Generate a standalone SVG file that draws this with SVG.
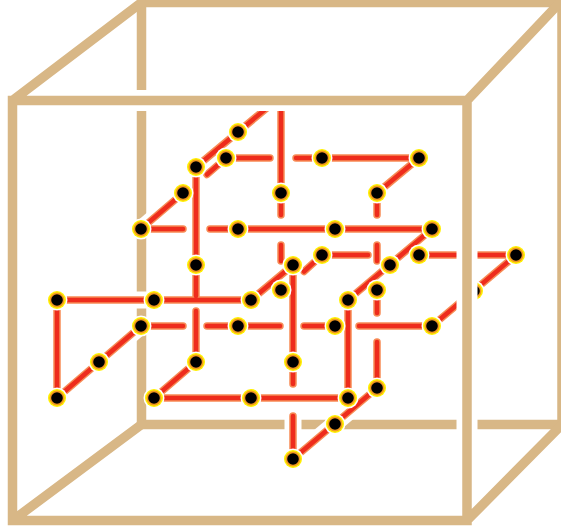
<svg xmlns="http://www.w3.org/2000/svg" width="561" height="529" viewBox="0 0 561 529">
<style>
.beam{fill:none;stroke:#D8B786;stroke-width:9.500;stroke-linecap:round}
.mask{fill:none;stroke:#fff;stroke-width:21}
.halo{stroke:#fff;stroke-width:17}
.edge{stroke:#F78B55;stroke-width:7.500;stroke-linecap:round}
.core{stroke:#EE2C1C;stroke-width:4.500;stroke-linecap:round}
</style>
<defs>
<g id="dot">
<circle r="10.500" fill="#fff"/>
<circle r="9" fill="#FFF000"/>
<circle r="7.500" fill="#F39A1E"/>
<circle r="5.800" fill="#000"/>
</g>
<g id="wires">
<line x1="196" y1="167" x2="238" y2="132"/>
<line x1="238" y1="132" x2="280" y2="97"/>
<line x1="141" y1="229" x2="183" y2="193"/>
<line x1="226" y1="158" x2="207" y2="174.500"/>
<line x1="226" y1="158" x2="270" y2="158"/>
<line x1="296" y1="158" x2="322" y2="158"/>
<line x1="322" y1="158" x2="419" y2="158"/>
<line x1="419" y1="158" x2="377" y2="193"/>
<line x1="281" y1="100" x2="281" y2="193"/>
<line x1="281" y1="193" x2="281" y2="215"/>
<line x1="281" y1="245" x2="281" y2="261"/>
<line x1="377" y1="193" x2="377" y2="215"/>
<line x1="377" y1="245" x2="377" y2="261"/>
<line x1="377" y1="290" x2="377" y2="313"/>
<line x1="377" y1="342" x2="377" y2="388"/>
<line x1="141" y1="229" x2="183" y2="229"/>
<line x1="210" y1="229" x2="238" y2="229"/>
<line x1="238" y1="229" x2="432" y2="229"/>
<line x1="196" y1="167" x2="196" y2="296"/>
<line x1="196" y1="311" x2="196" y2="362"/>
<line x1="57" y1="300" x2="251" y2="300"/>
<line x1="251" y1="300" x2="293" y2="265"/>
<line x1="322" y1="255" x2="304" y2="271.500"/>
<line x1="293" y1="265" x2="293" y2="384"/>
<line x1="293" y1="416" x2="293" y2="459"/>
<line x1="322" y1="255" x2="368" y2="255"/>
<line x1="419" y1="255" x2="516" y2="255"/>
<line x1="348" y1="300" x2="432" y2="229"/>
<line x1="432" y1="326" x2="516" y2="255"/>
<line x1="141" y1="326" x2="183" y2="326"/>
<line x1="207" y1="326" x2="280" y2="326"/>
<line x1="304" y1="326" x2="335" y2="326"/>
<line x1="359" y1="326" x2="432" y2="326"/>
<line x1="348" y1="300" x2="348" y2="398"/>
<line x1="154" y1="398" x2="348" y2="398"/>
<line x1="154" y1="398" x2="196" y2="362"/>
<line x1="293" y1="459" x2="377" y2="388"/>
<line x1="57" y1="300" x2="57" y2="398"/>
<line x1="57" y1="398" x2="141" y2="326"/>
</g>
</defs>
<g id="box-back">
<path class="beam" d="M141.500 2.500V424.500M141.500 2.500H566M562 2.500V424.500M141.500 424.500H562"/>
</g>
<g id="connectors">
<use href="#wires" class="halo"/>
<use href="#wires" class="edge"/>
<use href="#wires" class="core"/>
</g>
<g id="nodes">
<g id="n1"><use href="#dot" x="238" y="132"/></g>
<g id="n2"><use href="#dot" x="196" y="167"/></g>
<g id="n3"><use href="#dot" x="226" y="158"/></g>
<g id="n4"><use href="#dot" x="322" y="158"/></g>
<g id="n5"><use href="#dot" x="419" y="158"/></g>
<g id="n6"><use href="#dot" x="183" y="193"/></g>
<g id="n7"><use href="#dot" x="281" y="193"/></g>
<g id="n8"><use href="#dot" x="377" y="193"/></g>
<g id="n9"><use href="#dot" x="141" y="229"/></g>
<g id="n10"><use href="#dot" x="238" y="229"/></g>
<g id="n11"><use href="#dot" x="335" y="229"/></g>
<g id="n12"><use href="#dot" x="432" y="229"/></g>
<g id="n13"><use href="#dot" x="322" y="255"/></g>
<g id="n14"><use href="#dot" x="419" y="255"/></g>
<g id="n15"><use href="#dot" x="516" y="255"/></g>
<g id="n16"><use href="#dot" x="196" y="265"/></g>
<g id="n17"><use href="#dot" x="293" y="265"/></g>
<g id="n18"><use href="#dot" x="390" y="265"/></g>
<g id="n19"><use href="#dot" x="281" y="290"/></g>
<g id="n20"><use href="#dot" x="377" y="290"/></g>
<g id="n21"><use href="#dot" x="474" y="291"/></g>
<g id="n22"><use href="#dot" x="57" y="300"/></g>
<g id="n23"><use href="#dot" x="154" y="300"/></g>
<g id="n24"><use href="#dot" x="251" y="300"/></g>
<g id="n25"><use href="#dot" x="348" y="300"/></g>
<g id="n26"><use href="#dot" x="141" y="326"/></g>
<g id="n27"><use href="#dot" x="238" y="326"/></g>
<g id="n28"><use href="#dot" x="335" y="326"/></g>
<g id="n29"><use href="#dot" x="432" y="326"/></g>
<g id="n30"><use href="#dot" x="99" y="362"/></g>
<g id="n31"><use href="#dot" x="196" y="362"/></g>
<g id="n32"><use href="#dot" x="293" y="362"/></g>
<g id="n33"><use href="#dot" x="377" y="388"/></g>
<g id="n34"><use href="#dot" x="57" y="398"/></g>
<g id="n35"><use href="#dot" x="154" y="398"/></g>
<g id="n36"><use href="#dot" x="251" y="398"/></g>
<g id="n37"><use href="#dot" x="348" y="398"/></g>
<g id="n38"><use href="#dot" x="335" y="424"/></g>
<g id="n39"><use href="#dot" x="293" y="459"/></g>
</g>
<g id="box-front">
<rect class="mask" x="12.500" y="100.500" width="454.500" height="420"/>
<path class="beam" d="M12.500 100.500H467V520.500H12.500ZM12.500 100.500L141.500 2.500M467 100.500L560 2.500M467 520.500L562 424.500M12.500 520.500L141.500 424.500"/>
</g>
</svg>
